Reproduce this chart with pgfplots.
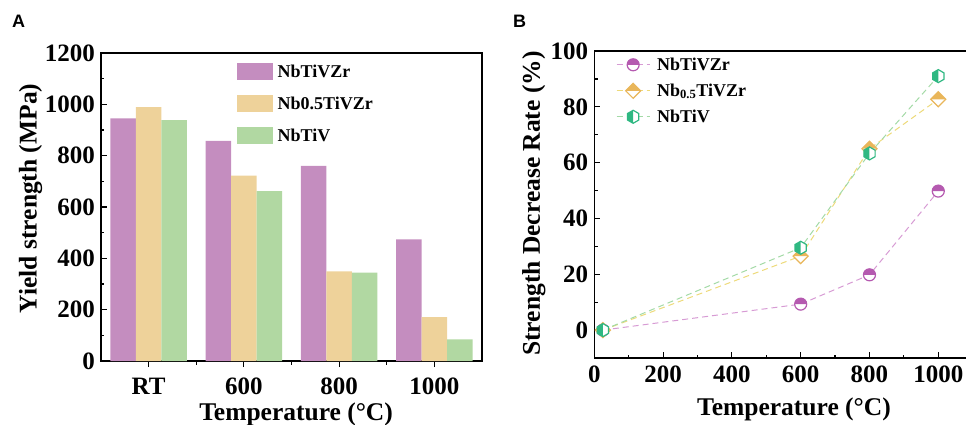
\documentclass[border=0pt]{standalone}
\usepackage{fontspec}
\setmainfont{Liberation Serif}
\newfontfamily\arialfont{Liberation Sans}
\usepackage{pgfplots}
\pgfplotsset{compat=1.18}
\definecolor{barP}{HTML}{C48DBF}
\definecolor{barO}{HTML}{EED29A}
\definecolor{barG}{HTML}{B1D8A2}
\definecolor{mkP}{HTML}{B55AB0}
\definecolor{mkO}{HTML}{E9B65A}
\definecolor{mkG}{HTML}{2FB882}
\definecolor{lnP}{HTML}{D79BD4}
\definecolor{lnO}{HTML}{EDDA7A}
\definecolor{lnG}{HTML}{A3DAA6}
\newcommand\ticfont{\fontsize{25}{30}\selectfont\bfseries}
\newcommand\labfont{\fontsize{25.5}{30}\selectfont\bfseries}
\newcommand\legfont{\fontsize{18}{22}\selectfont\bfseries}
\newcommand\panfont{\arialfont\bfseries\fontsize{18}{20}\selectfont}
\pgfdeclareplotmark{halfcirc}{%
  \begin{pgfscope}\pgfsetfillcolor{white}%
  \pgfpathcircle{\pgfpointorigin}{\pgfplotmarksize}\pgfusepathqfill\end{pgfscope}%
  \pgfpathmoveto{\pgfqpoint{\pgfplotmarksize}{0pt}}%
  \pgfpatharc{0}{180}{\pgfplotmarksize}%
  \pgfpathclose\pgfusepathqfill
  \pgfpathcircle{\pgfpointorigin}{\pgfplotmarksize}\pgfusepathqstroke
}
\pgfdeclareplotmark{halfdiam}{%
  \begin{pgfscope}\pgfsetfillcolor{white}%
  \pgfpathmoveto{\pgfqpoint{0pt}{1.25\pgfplotmarksize}}%
  \pgfpathlineto{\pgfqpoint{1.25\pgfplotmarksize}{0pt}}%
  \pgfpathlineto{\pgfqpoint{0pt}{-1.25\pgfplotmarksize}}%
  \pgfpathlineto{\pgfqpoint{-1.25\pgfplotmarksize}{0pt}}%
  \pgfpathclose\pgfusepathqfill\end{pgfscope}%
  \pgfpathmoveto{\pgfqpoint{-1.25\pgfplotmarksize}{0pt}}%
  \pgfpathlineto{\pgfqpoint{0pt}{1.25\pgfplotmarksize}}%
  \pgfpathlineto{\pgfqpoint{1.25\pgfplotmarksize}{0pt}}%
  \pgfpathclose\pgfusepathqfill
  \pgfpathmoveto{\pgfqpoint{0pt}{1.25\pgfplotmarksize}}%
  \pgfpathlineto{\pgfqpoint{1.25\pgfplotmarksize}{0pt}}%
  \pgfpathlineto{\pgfqpoint{0pt}{-1.25\pgfplotmarksize}}%
  \pgfpathlineto{\pgfqpoint{-1.25\pgfplotmarksize}{0pt}}%
  \pgfpathclose\pgfusepathqstroke
}
\pgfdeclareplotmark{halfhex}{%
  \begin{pgfscope}\pgfsetfillcolor{white}%
  \pgfpathmoveto{\pgfqpoint{0pt}{\pgfplotmarksize}}%
  \pgfpathlineto{\pgfqpoint{0.866\pgfplotmarksize}{0.5\pgfplotmarksize}}%
  \pgfpathlineto{\pgfqpoint{0.866\pgfplotmarksize}{-0.5\pgfplotmarksize}}%
  \pgfpathlineto{\pgfqpoint{0pt}{-\pgfplotmarksize}}%
  \pgfpathlineto{\pgfqpoint{-0.866\pgfplotmarksize}{-0.5\pgfplotmarksize}}%
  \pgfpathlineto{\pgfqpoint{-0.866\pgfplotmarksize}{0.5\pgfplotmarksize}}%
  \pgfpathclose\pgfusepathqfill\end{pgfscope}%
  \pgfpathmoveto{\pgfqpoint{0pt}{\pgfplotmarksize}}%
  \pgfpathlineto{\pgfqpoint{-0.866\pgfplotmarksize}{0.5\pgfplotmarksize}}%
  \pgfpathlineto{\pgfqpoint{-0.866\pgfplotmarksize}{-0.5\pgfplotmarksize}}%
  \pgfpathlineto{\pgfqpoint{0pt}{-\pgfplotmarksize}}%
  \pgfpathclose\pgfusepathqfill
  \pgfpathmoveto{\pgfqpoint{0pt}{\pgfplotmarksize}}%
  \pgfpathlineto{\pgfqpoint{0.866\pgfplotmarksize}{0.5\pgfplotmarksize}}%
  \pgfpathlineto{\pgfqpoint{0.866\pgfplotmarksize}{-0.5\pgfplotmarksize}}%
  \pgfpathlineto{\pgfqpoint{0pt}{-\pgfplotmarksize}}%
  \pgfpathlineto{\pgfqpoint{-0.866\pgfplotmarksize}{-0.5\pgfplotmarksize}}%
  \pgfpathlineto{\pgfqpoint{-0.866\pgfplotmarksize}{0.5\pgfplotmarksize}}%
  \pgfpathclose\pgfusepathqstroke
}
\pgfplotsset{
  common/.style={
    scale only axis,
    anchor=south west,
    tick align=inside,
    xtick pos=left, ytick pos=left,
    major tick length=6pt, minor tick length=3.5pt,
    axis line style={line width=1.3pt},
    every tick/.style={line width=1.2pt, black},
    every minor tick/.style={line width=1.2pt, black},
    /pgf/number format/assume math mode=true,
    /pgf/number format/1000 sep={},
    scaled ticks=false,
    tick label style={font=\ticfont},
    yticklabel style={anchor=east, inner sep=0pt, xshift=-6pt},
    label style={font=\labfont},
  }
}
\begin{document}
\begin{tikzpicture}
% ---------------- Panel A ----------------
\begin{axis}[common,
  at={(101pt,63pt)}, width=381pt, height=308pt,
  xmin=-0.5, xmax=3.5, ymin=0, ymax=1200,
  ybar=0pt, bar width=25.5pt,
  xtick={0,1,2,3}, xticklabels={RT,600,800,1000},
  minor xtick={0.5,1.5,2.5},
  ytick={0,200,...,1200}, minor ytick={100,300,...,1100},
  xticklabel style={anchor=north, inner sep=0pt, yshift=-11pt},
  xlabel={Temperature (°C)},
  xlabel style={at={(axis description cs:0.512,-0.1916)}, anchor=base},
  ylabel={Yield strength (MPa)},
  ylabel style={at={(axis description cs:-0.169,0.528)}, anchor=base},
  legend style={at={(axis description cs:0.3555,0.969)}, anchor=north west,
    draw=none, fill=none, font=\legfont, row sep=14pt, column sep=3pt, inner sep=0pt},
  legend cell align=left,
  legend image code/.code={\fill[#1] (0pt,-8.5pt) rectangle (36pt,8.5pt);},
]
\addplot[fill=barP, draw=none] coordinates {(0,945) (1,858) (2,760) (3,474)};
\addlegendentry{NbTiVZr}
\addplot[fill=barO, draw=none] coordinates {(0,989) (1,722) (2,349) (3,171)};
\addlegendentry{Nb0.5TiVZr}
\addplot[fill=barG, draw=none] coordinates {(0,938) (1,662) (2,344) (3,84)};
\addlegendentry{NbTiV}
\end{axis}
% ---------------- Panel B ----------------
\begin{axis}[common,
  at={(594.3pt,66pt)}, width=373.2pt, height=307pt,
  xmin=0, xmax=1085, ymin=-10, ymax=100,
  xtick={0,200,...,1000}, minor xtick={100,300,...,900},
  ytick={0,20,...,100}, minor ytick={10,30,...,90},
  xticklabel style={anchor=north, inner sep=0pt, yshift=-8pt},
  xlabel={Temperature (°C)},
  xlabel style={at={(axis description cs:0.535,-0.186)}, anchor=base},
  ylabel={Strength Decrease Rate (\%)},
  ylabel style={at={(axis description cs:-0.146,0.503)}, anchor=base},
  legend style={at={(axis description cs:0.058,0.985)}, anchor=north west,
    draw=none, fill=none, font=\legfont, row sep=8pt, column sep=5pt, inner sep=0pt},
  legend cell align=left,
  legend image code/.code={\draw[mark repeat=2,mark phase=2,#1] plot coordinates {(0pt,0pt) (16.5pt,0pt) (33pt,0pt)};},
]
\addplot[lnP, line width=1pt, dash pattern=on 6pt off 4pt, mark=halfcirc, mark size=6pt,
  mark options={solid, draw=mkP, fill=mkP, line width=1.2pt}]
  coordinates {(25,0) (600,9.3) (800,19.8) (1000,49.8)};
\addlegendentry{NbTiVZr}
\addplot[lnO, line width=1pt, dash pattern=on 6pt off 4pt, mark=halfdiam, mark size=6pt,
  mark options={solid, draw=mkO, fill=mkO, line width=1.2pt}]
  coordinates {(25,0) (600,26.5) (800,65) (1000,82.7)};
\addlegendentry{Nb\textsubscript{0.5}TiVZr}
\addplot[lnG, line width=1pt, dash pattern=on 6pt off 4pt, mark=halfhex, mark size=6.5pt,
  mark options={solid, draw=mkG, fill=mkG, line width=1.2pt}]
  coordinates {(25,0) (600,29.5) (800,63.3) (1000,91)};
\addlegendentry{NbTiV}
\end{axis}
\node[anchor=base west, inner sep=0pt, font=\panfont] at (12pt,396pt) {A};
\node[anchor=base west, inner sep=0pt, font=\panfont] at (513pt,396pt) {B};
\pgfresetboundingbox
\useasboundingbox (0,0) rectangle (966pt,424pt);
\end{tikzpicture}
\end{document}
